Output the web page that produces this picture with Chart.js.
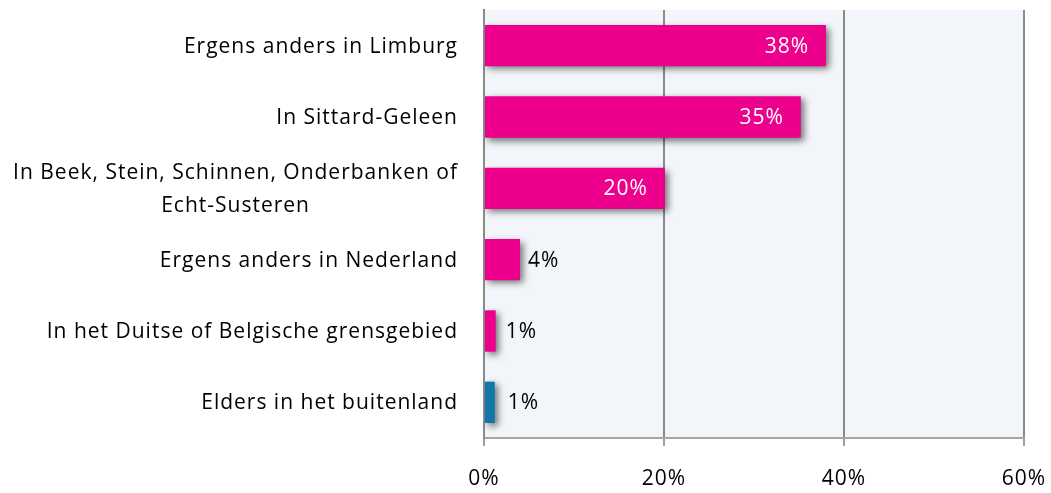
<!DOCTYPE html>
<html>
<head>
<meta charset="utf-8">
<script src="https://cdn.jsdelivr.net/npm/chart.js@4/dist/chart.umd.min.js"></script>
<style>
  html, body { margin: 0; padding: 0; background: #ffffff; }
  #wrap { width: 1051px; height: 493px; }
</style>
</head>
<body>
<div id="wrap"><canvas id="c" width="1051" height="493"></canvas></div>
<script>
const categories = [
  'Ergens anders in Limburg',
  'In Sittard-Geleen',
  ['In Beek, Stein, Schinnen, Onderbanken of', 'Echt-Susteren'],
  'Ergens anders in Nederland',
  'In het Duitse of Belgische grensgebied',
  'Elders in het buitenland'
];
const values = [38.0, 35.2, 20.1, 4.0, 1.3, 1.2];
const valueLabels = ['38%', '35%', '20%', '4%', '1%', '1%'];
const labelInside = [true, true, true, false, false, false];
const barColors = ['#EC008C', '#EC008C', '#EC008C', '#EC008C', '#EC008C', '#0F78A8'];
const xTicks = [0, 20, 40, 60];

const FONT = '"Open Sans", "Liberation Sans", sans-serif';
const FSIZE = 21;

const customPlugin = {
  id: 'custom',
  beforeDraw(chart) {
    const { ctx, chartArea: a } = chart;
    ctx.letterSpacing = '1px';
    ctx.save();
    ctx.fillStyle = '#F2F6FA';
    ctx.fillRect(a.left, a.top, a.right - a.left, a.bottom - a.top);
    ctx.restore();
  },
  beforeDatasetsDraw(chart) {
    const ctx = chart.ctx;
    ctx.save();
    ctx.shadowColor = 'rgba(0,0,0,0.55)';
    ctx.shadowBlur = 7;
    ctx.shadowOffsetX = 3;
    ctx.shadowOffsetY = 3;
  },
  afterDatasetsDraw(chart) {
    const ctx = chart.ctx;
    ctx.restore();
    const meta = chart.getDatasetMeta(0);
    ctx.save();
    ctx.letterSpacing = '1px';
    ctx.font = FSIZE + 'px ' + FONT;
    ctx.textBaseline = 'middle';
    meta.data.forEach((bar, i) => {
      const txt = valueLabels[i];
      if (labelInside[i]) {
        ctx.fillStyle = '#ffffff';
        ctx.textAlign = 'right';
        ctx.fillText(txt, bar.x - 17, bar.y + 1);
      } else {
        ctx.fillStyle = '#000000';
        ctx.textAlign = 'left';
        ctx.fillText(txt, bar.x + 8 + (i === 5 ? 5 : i === 4 ? 2 : 0), bar.y + 1);
      }
    });
    const ys = chart.scales.y;
    ctx.fillStyle = '#000000';
    ctx.textAlign = 'center';
    categories.forEach((lab, i) => {
      const lines = Array.isArray(lab) ? lab : [lab];
      const widths = lines.map(l => ctx.measureText(l).width);
      const maxW = Math.max(...widths);
      const right = chart.chartArea.left - 26;
      const cx = right - maxW / 2;
      const yc = ys.getPixelForValue(i);
      const lh = 33;
      lines.forEach((l, j) => {
        const y = yc + (j - (lines.length - 1) / 2) * lh;
        ctx.fillText(l, cx, y + 1);
      });
    });
    ctx.restore();
  }
};

new Chart(document.getElementById('c'), {
  type: 'bar',
  data: {
    labels: categories,
    datasets: [{
      data: values,
      backgroundColor: barColors,
      borderWidth: 0,
      barPercentage: 0.58,
      categoryPercentage: 1.0
    }]
  },
  options: {
    indexAxis: 'y',
    responsive: false,
    animation: false,
    devicePixelRatio: 1,
    layout: { padding: { top: 10, right: 27, left: 0, bottom: 0 } },
    plugins: { legend: { display: false }, tooltip: { enabled: false } },
    scales: {
      x: {
        min: 0,
        max: 60,
        afterFit(scale) { scale.height = 55; scale.paddingLeft = 0; scale.paddingRight = 0; },
        afterBuildTicks(scale) { scale.ticks = xTicks.map(v => ({ value: v })); },
        ticks: {
          callback: v => v + '%',
          color: '#000000',
          font: { family: FONT, size: FSIZE },
          padding: 20,
          maxRotation: 0
        },
        grid: {
          color: '#8A8A8A',
          lineWidth: 2,
          drawTicks: true,
          tickLength: 8,
          tickColor: '#A0A0A0'
        },
        border: { display: true, color: '#A6A6A6', width: 2 }
      },
      y: {
        afterFit(scale) { scale.width = 484; scale.paddingTop = 0; scale.paddingBottom = 0; },
        ticks: { display: false },
        grid: { display: false, drawTicks: false },
        border: { display: true, color: '#8A8A8A', width: 2 }
      }
    }
  },
  plugins: [customPlugin]
});
</script>
</body>
</html>
